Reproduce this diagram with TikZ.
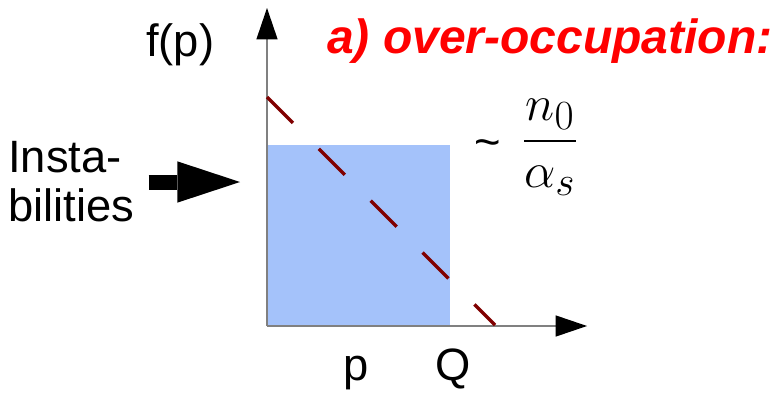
\documentclass[tikz,border=0pt]{standalone}
\usepackage{fontspec}
\setmainfont{Liberation Sans}
\usepackage{amsmath}
\usetikzlibrary{arrows.meta, positioning}
\definecolor{OccupBlue}{RGB}{164,194,250}
\definecolor{DashRed}{RGB}{128,0,0}
\definecolor{AxisGray}{RGB}{128,128,128}
\definecolor{TitleRed}{RGB}{255,0,0}

\begin{document}
\begin{tikzpicture}[x=0.75pt, y=-0.75pt,
    axis/.style={AxisGray, line width=1.1pt, -{Triangle[length=23.5pt, width=16pt, line width=0pt, black]}},
    axlabel/.style={inner sep=0pt, font=\fontsize{34}{36.75}\selectfont},
    bigarrow/.style={line width=11.25pt, -{Triangle[length=47pt, width=31pt, line width=0pt]}},
    guess/.style={DashRed, line width=2.6pt, dash pattern=on 27.5pt off 27.5pt}]
  \useasboundingbox (0,0) rectangle (775,396);
  \coordinate (O) at (267,326);
  \coordinate (ytop) at (267,8);
  \coordinate (xend) at (587,326);
  \coordinate (hit) at (240,182);
  \coordinate (dtop) at (267,97);
  \coordinate (dbot) at (495,325);
  % occupied region
  \fill[OccupBlue] (O) rectangle (450,145);
  \draw[axis] (O) -- (ytop);
  \draw[axis] (O) -- (xend);
  \draw[guess] (dtop) -- (dbot);
  % labels
  \node[axlabel, anchor=base west] (fp) at (146,56) {f(p)};
  \node[axlabel, anchor=base] (plab) at (356,380) {p};
  \node[axlabel, anchor=base] (qlab) at (453,380) {Q};
  \node[axlabel, anchor=base] (tilde) at (488,157) {\textasciitilde};
  \node[inner sep=0pt, font=\Huge] (ratio) at (550,147) {\scalebox{1.5}{$\displaystyle\frac{n_0}{\alpha_s}$}};
  \node[inner sep=0pt, anchor=base west, text=TitleRed, font=\fontsize{36}{40}\selectfont\bfseries\itshape] (title) at (327,53) {a) over-occupation:};
  \node[axlabel, anchor=north west, align=left] (insta) at (8,141) {Insta-\\bilities};
  \draw[bigarrow, shorten <=10.5pt] (hit -| insta.east) -- (hit);
\end{tikzpicture}
\end{document}
